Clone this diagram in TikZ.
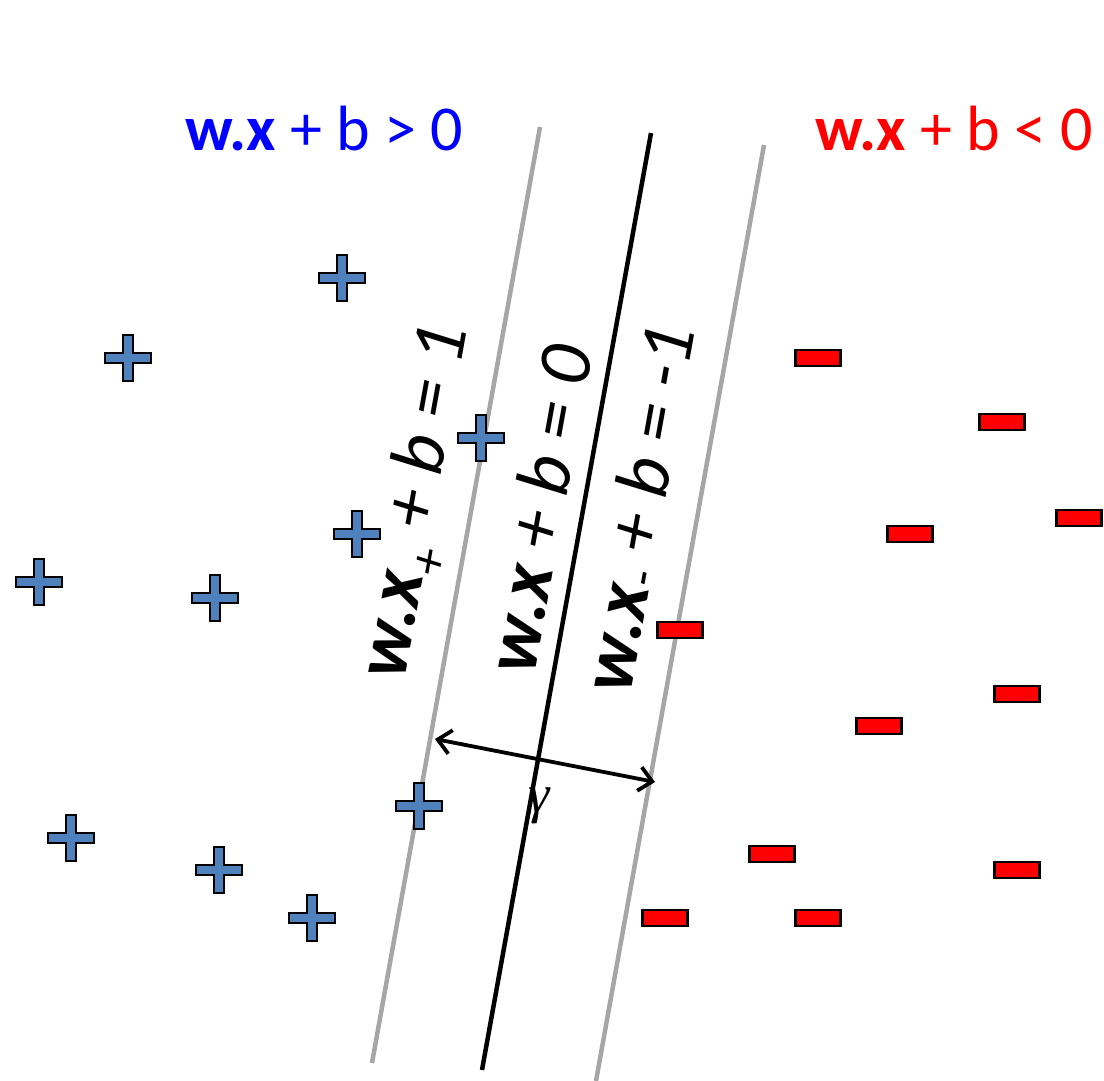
\documentclass[tikz,border=0pt]{standalone}
\usepackage{fontspec}
\setmainfont{Carlito}
\newfontfamily\gammafont{Liberation Serif}
\usetikzlibrary{arrows.meta}
\definecolor{plusblue}{HTML}{4F81BD}
\definecolor{marggray}{HTML}{A6A6A6}
\begin{document}
\begin{tikzpicture}[x=1pt,y=-1pt,
  plusm/.pic={\draw[line width=2.2pt,fill=plusblue,line join=miter]
     (-5,-23) -- (5,-23) -- (5,-5) -- (23,-5) -- (23,5) -- (5,5) -- (5,23) -- (-5,23)
     -- (-5,5) -- (-23,5) -- (-23,-5) -- (-5,-5) -- cycle;},
  minusm/.style={draw=black,line width=2.2pt,fill=red,minimum width=45pt,minimum height=16pt,inner sep=0pt},
  margline/.style={marggray,line width=4.5pt},
  hypline/.style={black,line width=4.5pt},
  eqlabel/.style={rotate=79.8,font=\fontsize{76}{80}\selectfont\itshape,inner sep=0pt},
  toplabel/.style={font=\fontsize{64}{70}\selectfont,inner sep=0pt,anchor=base west}
]
\useasboundingbox (0,0) rectangle (1104,1081);
% lines
\coordinate (lt) at (540,127); \coordinate (lb) at (372,1063);
\coordinate (mt) at (651,133); \coordinate (mb) at (482,1070);
\coordinate (rt) at (764,145); \coordinate (rb) at (596,1081);
\draw[margline] (lt) -- (lb);
\draw[hypline] (mt) -- (mb);
\draw[margline] (rt) -- (rb);
% plus points
\foreach \p/\x/\y in {p1/342/278,p2/128/358,p3/481/438,p4/357/534,p5/39/582,p6/215/598,p7/419/806,p8/71/838,p9/219/870,p10/312/918}
  \pic (\p) at (\x,\y) {plusm};
% minus points
\foreach \m/\x/\y in {m1/818/358,m2/1002/422,m3/910/534,m4/1079/518,m5/680/630,m6/1017/694,m7/879/726,m8/772/854,m9/665/918,m10/818/918,m11/1017/870}
  \node[minusm] (\m) at (\x,\y) {};
% labels
\node[eqlabel] (lab1) at (420,503) {\textbf{w.x}\textsubscript{+} + b = 1};
\node[eqlabel] (lab0) at (538,509) {\textbf{w.x} + b = 0};
\node[eqlabel] (labm) at (641,509) {\textbf{w.x}\textsubscript{-} + b = -1};
\node[toplabel,text={rgb,255:red,0;green,0;blue,255}] (pos) at (185,150) {\textbf{w.x} + b > 0};
\node[toplabel,text=red] (neg) at (815,150) {\textbf{w.x} + b < 0};
% margin arrow
\coordinate (aL) at (435,739);
\coordinate (aR) at (655,782);
\draw[line width=3.8pt,{Straight Barb[length=13pt,width=24pt]}-{Straight Barb[length=13pt,width=24pt]}] (aL) -- (aR);
\node[font=\fontsize{54}{60}\selectfont\gammafont\itshape,inner sep=0pt] (gam) at (539,806) {γ};
\end{tikzpicture}
\end{document}
